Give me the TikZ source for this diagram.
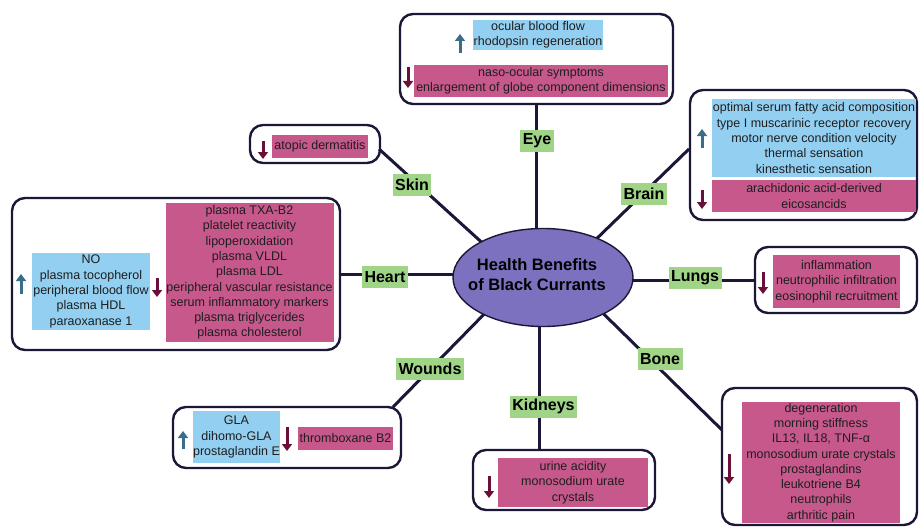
\documentclass[tikz,border=0pt]{standalone}
\usepackage{fontspec}
\setmainfont{Liberation Sans}
\usetikzlibrary{shapes.geometric,arrows.meta}
\definecolor{navy}{RGB}{28,22,56}
\definecolor{skyb}{RGB}{147,207,241}
\definecolor{rose}{RGB}{198,88,140}
\definecolor{leaf}{RGB}{160,213,136}
\definecolor{hubc}{RGB}{124,113,190}
\definecolor{upc}{RGB}{58,108,140}
\definecolor{downc}{RGB}{106,16,56}
\definecolor{txt}{RGB}{30,30,30}
\begin{document}
\begin{tikzpicture}[x=1pt,y=-1pt,
  frame/.style={draw=navy,line width=2.4pt,rounded corners=13pt,fill=white,inner sep=0pt},
  boxfont/.style={font=\fontsize{12.5}{15.3}\selectfont},
  bluebox/.style={fill=skyb,align=center,inner sep=0pt,text=txt,boxfont},
  pinkbox/.style={fill=rose,align=center,inner sep=0pt,text=txt,boxfont},
  organ/.style={fill=leaf,font=\bfseries\fontsize{16}{18}\selectfont,inner xsep=2.5pt,inner ysep=0pt,minimum height=22pt,text=black},
  conn/.style={draw=navy,line width=3pt},
  uparr/.style={draw=upc,line width=3pt,-{Triangle[length=7pt,width=10pt]}},
  downarr/.style={draw=downc,line width=3pt,-{Triangle[length=7pt,width=10pt]}}]
\useasboundingbox (0,0) rectangle (919,527);

% outer frames
\node[frame,minimum width=273pt,minimum height=90pt] (eyebox) at (536.5,59) {};
\node[frame,minimum width=130pt,minimum height=38pt] (skinbox) at (315,144) {};
\node[frame,minimum width=227pt,minimum height=130pt] (brainbox) at (803.5,155) {};
\node[frame,minimum width=328pt,minimum height=152pt] (heartbox) at (176,274) {};
\node[frame,minimum width=162pt,minimum height=66pt] (lungsbox) at (836,280) {};
\node[frame,minimum width=195pt,minimum height=137pt] (bonebox) at (819.5,456.5) {};
\node[frame,minimum width=182pt,minimum height=60pt] (kidbox) at (564,480) {};
\node[frame,minimum width=228pt,minimum height=61pt] (woundbox) at (287,437.5) {};

% hub placeholder for anchors
\node[ellipse,minimum width=180pt,minimum height=98pt,inner sep=0pt] (hub) at (543,277.5) {};

% connector attachment points
\coordinate (skinA) at (379,149);
\coordinate (brainA) at (689,149);
\coordinate (boneA) at (722,430);
\coordinate (kidA) at (539,450);
\coordinate (woundA) at (393,407);

% connectors
\draw[conn,shorten >=-4pt] (eyebox.south) -- (eyebox.south |- hub.north);
\draw[conn,shorten >=-4pt] (skinA) -- (hub.150.6);
\draw[conn,shorten >=-4pt] (brainA) -- (hub.36.2);
\draw[conn,shorten >=-4pt] (heartbox.east) -- (hub.west |- heartbox.east);
\draw[conn,shorten >=-4pt] (lungsbox.west) -- (hub.east |- lungsbox.west);
\draw[conn,shorten >=-4pt] (boneA) -- (hub.-31.8);
\draw[conn,shorten >=-4pt] (kidA) -- (kidA |- hub.south);
\draw[conn,shorten >=-4pt] (woundA) -- (hub.212.4);

% hub
\node[ellipse,draw=navy,line width=1.4pt,fill=hubc,minimum width=180pt,minimum height=98pt,inner sep=0pt] (hubdraw) at (543,277.5) {};
\node[align=center,font=\bfseries\fontsize{16.5}{20}\selectfont,inner sep=0pt] (hubtext) at (537,274.5) {Health Benefits\\of Black Currants};

% organ labels
\node[organ] (eyel) at (537,140.5) {Eye};
\node[organ] (skinl) at (412,185) {Skin};
\node[organ] (brainl) at (644,193.5) {Brain};
\node[organ] (heartl) at (385,277) {Heart};
\node[organ] (lungsl) at (695,278) {Lungs};
\node[organ] (bonel) at (660,359) {Bone};
\node[organ] (kidl) at (543.5,406.5) {Kidneys};
\node[organ] (woundl) at (430,369) {Wounds};

% Eye
\node[bluebox,minimum width=130pt,minimum height=30pt] (eyeup) at (538,35) {ocular blood flow\\rhodopsin regeneration};
\node[pinkbox,minimum width=254pt,minimum height=32pt] (eyedown) at (541,81) {naso-ocular symptoms\\enlargement of globe component dimensions};
\draw[uparr] (460,53) -- (460,34);
\draw[downarr] (408,67) -- (408,88);

% Skin
\node[pinkbox,minimum width=96pt,minimum height=23pt] (skindown) at (320,146.5) {atopic dermatitis};
\draw[downarr] (263,141) -- (263,159);

% Brain
\node[bluebox,minimum width=204pt,minimum height=78pt] (brainup) at (814,138) {optimal serum fatty acid composition\\type I muscarinic receptor recovery\\motor nerve condition velocity\\thermal sensation\\kinesthetic sensation};
\node[pinkbox,minimum width=204pt,minimum height=32pt] (braindown) at (814,196) {arachidonic acid-derived\\eicosancids};
\draw[uparr] (702,148) -- (702,129);
\draw[downarr] (702,190) -- (702,209);

% Heart
\node[bluebox,minimum width=118pt,minimum height=77pt] (heartup) at (91,291.5) {NO\\plasma tocopherol\\peripheral blood flow\\plasma HDL\\paraoxanase 1};
\node[pinkbox,minimum width=168pt,minimum height=139pt] (heartdown) at (249.5,272.5) {plasma TXA-B2\\platelet reactivity\\lipoperoxidation\\plasma VLDL\\plasma LDL\\peripheral vascular resistance\\serum inflammatory markers\\plasma triglycerides\\plasma cholesterol};
\draw[uparr] (21,294) -- (21,274);
\draw[downarr] (157,278) -- (157,297);

% Lungs
\node[pinkbox,minimum width=127pt,minimum height=53pt] (lungsdown) at (836.5,281.5) {inflammation\\neutrophilic infiltration\\eosinophil recruitment};
\draw[downarr] (763,272) -- (763,294);

% Bone
\node[pinkbox,minimum width=158pt,minimum height=121pt] (bonedown) at (821,462.5) {degeneration\\morning stiffness\\IL13, IL18, TNF-α\\monosodium urate crystals\\prostaglandins\\leukotriene B4\\neutrophils\\arthritic pain};
\draw[downarr] (729,454) -- (729,484);

% Kidneys
\node[pinkbox,minimum width=150pt,minimum height=49pt] (kiddown) at (573,482.5) {urine acidity\\monosodium urate\\crystals};
\draw[downarr] (489,476) -- (489,498);

% Wounds
\node[bluebox,minimum width=87pt,minimum height=52pt] (woundup) at (236.5,437) {GLA\\dihomo-GLA\\prostaglandin E};
\node[pinkbox,minimum width=95pt,minimum height=23pt] (wounddown) at (345.5,438.5) {thromboxane B2};
\draw[uparr] (183,449) -- (183,431);
\draw[downarr] (287,427) -- (287,451);
\end{tikzpicture}
\end{document}
